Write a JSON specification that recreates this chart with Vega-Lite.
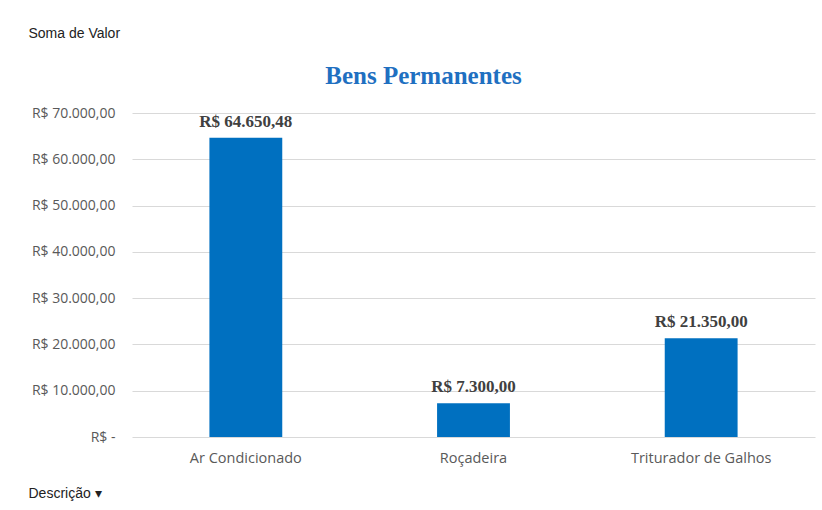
{
  "$schema": "https://vega.github.io/schema/vega-lite/v6.json",
  "width": 683,
  "height": 324,
  "autosize": {"type": "none"},
  "padding": {"left": 132, "top": 113, "right": 7, "bottom": 73},
  "background": "white",
  "config": {
    "locale": {
      "number": {"decimal": ",", "thousands": ".", "grouping": [3], "currency": ["R$ ", ""]}
    },
    "view": {"stroke": null}
  },
  "title": {
    "text": "Bens Permanentes",
    "font": "Liberation Serif",
    "fontSize": 25,
    "fontWeight": "bold",
    "color": "#1F70C1",
    "anchor": "middle",
    "dx": -50,
    "dy": 89,
    "offset": 26
  },
  "data": {
    "values": [
      {"Descricao": "Ar Condicionado", "Valor": 64650.48},
      {"Descricao": "Roçadeira", "Valor": 7300.00},
      {"Descricao": "Triturador de Galhos", "Valor": 21350.00}
    ]
  },
  "encoding": {
    "x": {
      "field": "Descricao",
      "type": "nominal",
      "sort": null,
      "scale": {"paddingInner": 0, "paddingOuter": 0},
      "axis": {
        "title": "Descrição   ▾",
        "titleFont": "Liberation Sans",
        "titleFontSize": 14,
        "titleFontWeight": "normal",
        "titleColor": "#222222",
        "titleAlign": "left",
        "titleBaseline": "middle",
        "titleX": -104,
        "titleY": 56,
        "labelAngle": 0,
        "labelFont": "Open Sans",
        "labelFontSize": 14.5,
        "labelColor": "#595959",
        "labelPadding": 14,
        "domain": false,
        "ticks": false
      }
    },
    "y": {
      "field": "Valor",
      "type": "quantitative",
      "scale": {"domain": [0, 70000]},
      "axis": {
        "title": "Soma de Valor",
        "titleAngle": 0,
        "titleFont": "Liberation Sans",
        "titleFontSize": 14,
        "titleFontWeight": "normal",
        "titleColor": "#222222",
        "titleAlign": "left",
        "titleBaseline": "middle",
        "titleX": -104,
        "titleY": -80,
        "values": [0, 10000, 20000, 30000, 40000, 50000, 60000, 70000],
        "format": "$,.2f",
        "labelExpr": "datum.value == 0 ? 'R$ -' : datum.label",
        "labelFont": "Open Sans",
        "labelFontSize": 14,
        "labelColor": "#595959",
        "labelPadding": 17,
        "domain": false,
        "ticks": false,
        "gridColor": "#D9D9D9",
        "gridWidth": 1
      }
    }
  },
  "layer": [
    {
      "mark": {"type": "bar", "color": "#0070C0", "width": {"band": 0.32}}
    },
    {
      "mark": {
        "type": "text",
        "baseline": "bottom",
        "dy": -7,
        "font": "Liberation Serif",
        "fontSize": 17,
        "fontWeight": "bold",
        "color": "#404040"
      },
      "encoding": {
        "text": {"field": "Valor", "type": "quantitative", "format": "$,.2f"}
      }
    }
  ]
}
